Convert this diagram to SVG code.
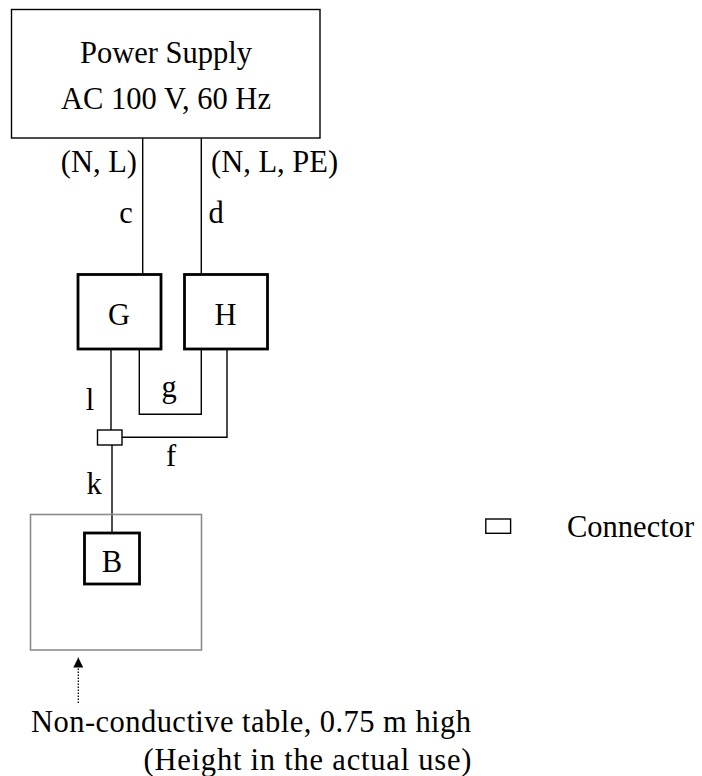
<svg xmlns="http://www.w3.org/2000/svg" width="702" height="776" viewBox="0 0 702 776">
<style>
text{font-family:"Liberation Serif","Times New Roman",serif;font-size:30.5px;fill:#000}
.m{text-anchor:middle}
.thin{fill:none;stroke:#000;stroke-width:1.4}
.thick{fill:#fff;stroke:#000;stroke-width:2.8}
.wire{fill:none;stroke:#000;stroke-width:1.4}
</style>
<defs>
<marker id="ah" markerWidth="10" markerHeight="10" refX="10" refY="5" orient="auto" markerUnits="userSpaceOnUse" viewBox="0 0 10 10">
<path d="M0,0 L10,5 L0,10 Z" fill="#000"/>
</marker>
</defs>
<g id="connectors">
<line class="wire" x1="142.7" y1="138" x2="142.7" y2="274"/>
<line class="wire" x1="201.3" y1="138" x2="201.3" y2="274"/>
<line class="wire" x1="111" y1="349" x2="111" y2="430"/>
<polyline class="wire" points="139.3,349 139.3,414.3 201.3,414.3 201.3,349"/>
<polyline class="wire" points="227,349 227,437.3 122,437.3"/>
<line class="wire" x1="112" y1="445" x2="112" y2="533"/>
<line x1="78.3" y1="703" x2="78.3" y2="657.5" stroke="#000" stroke-width="1.3" stroke-dasharray="1.5,1.5" marker-end="url(#ah)"/>
<text x="126" y="223" class="m">c</text>
<text x="216" y="223" class="m">d</text>
<text x="90" y="410" class="m">l</text>
<text x="169" y="397" class="m">g</text>
<text x="171" y="466" class="m">f</text>
<text x="94" y="494" class="m">k</text>
<text x="137" y="172" text-anchor="end">(N, L)</text>
<text x="211" y="172">(N, L, PE)</text>
</g>
<g id="power-supply">
<rect x="11.5" y="9.5" width="308.5" height="128.5" class="thin" fill="#fff"/>
<text x="166" y="63" class="m">Power Supply</text>
<text x="166" y="109" class="m">AC 100 V, 60 Hz</text>
</g>
<g id="G">
<rect x="78" y="274.5" width="83" height="74.5" class="thick"/>
<text x="119" y="325" class="m">G</text>
</g>
<g id="H">
<rect x="184.5" y="274.5" width="83" height="74.5" class="thick"/>
<text x="225.5" y="325" class="m">H</text>
</g>
<g id="connector">
<rect x="97.5" y="430" width="24.5" height="15" class="thin" fill="#fff"/>
</g>
<g id="table">
<rect x="30.5" y="514.5" width="171" height="135.5" fill="none" stroke="#8c8c8c" stroke-width="1.6"/>
</g>
<g id="B">
<rect x="84.5" y="533" width="55" height="51" class="thick"/>
<text x="112" y="572" class="m">B</text>
</g>
<g id="table-label">
<text x="31" y="731.5" textLength="440" lengthAdjust="spacing">Non-conductive table, 0.75 m high</text>
<text x="143.5" y="770" textLength="328" lengthAdjust="spacing">(Height in the actual use)</text>
</g>
<g id="legend">
<rect x="485.8" y="519" width="24.8" height="14.3" class="thin" fill="#fff"/>
<text x="567" y="537">Connector</text>
</g>
</svg>
